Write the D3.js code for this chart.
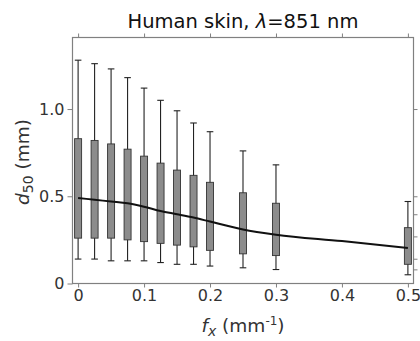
<!DOCTYPE html>
<html><head><meta charset="utf-8">
<script src="https://cdn.jsdelivr.net/npm/d3@7"></script>
<style>body{margin:0;background:#fff}svg{display:block}text{font-family:"DejaVu Sans",sans-serif}</style>
</head><body><svg id="c" width="420" height="341"></svg>
<script>
// data
const fx        = [0, 0.025, 0.05, 0.075, 0.1, 0.125, 0.15, 0.175, 0.2, 0.25, 0.3, 0.5];
const whiskHigh = [1.28, 1.26, 1.23, 1.18, 1.12, 1.05, 0.99, 0.92, 0.87, 0.76, 0.68, 0.47];
const boxHigh   = [0.83, 0.82, 0.80, 0.77, 0.73, 0.69, 0.65, 0.62, 0.58, 0.52, 0.46, 0.32];
const boxLow    = [0.26, 0.26, 0.26, 0.25, 0.24, 0.23, 0.22, 0.21, 0.19, 0.17, 0.16, 0.11];
const whiskLow  = [0.14, 0.14, 0.13, 0.13, 0.13, 0.12, 0.11, 0.11, 0.10, 0.09, 0.08, 0.05];
const lineX     = [0, 0.025, 0.05, 0.075, 0.1, 0.125, 0.15, 0.175, 0.2, 0.25, 0.3, 0.4, 0.5];
const lineY     = [0.49, 0.48, 0.47, 0.46, 0.44, 0.415, 0.397, 0.378, 0.355, 0.31, 0.28, 0.243, 0.203];
const xTicks    = [0, 0.1, 0.2, 0.3, 0.4, 0.5];
const xTickLabels = ["0", "0.1", "0.2", "0.3", "0.4", "0.5"];
const yTicks    = [0, 0.5, 1.0];
const yTickLabels = ["0", "0.5", "1.0"];
const rightTicks = [0.081, 0.142, 0.27, 0.397, 0.5, 1.0];

const svg = d3.select("#c");
const x = d3.scaleLinear().domain([-0.0085, 0.5085]).range([72.5, 413.5]);
const y = d3.scaleLinear().domain([0, 1.41]).range([283.5, 37.5]);
const axisCol = "#808080", txtCol = "#333";

// boxes
const g = svg.append("g");
fx.forEach((v, i) => {
  const cx = x(v);
  g.append("line").attr("x1", cx).attr("x2", cx).attr("y1", y(whiskHigh[i])).attr("y2", y(whiskLow[i]))
    .attr("stroke", "#222").attr("stroke-width", 1.1);
  [whiskHigh[i], whiskLow[i]].forEach(w => g.append("line").attr("x1", cx - 3.3).attr("x2", cx + 3.3)
    .attr("y1", y(w)).attr("y2", y(w)).attr("stroke", "#222").attr("stroke-width", 1.1));
  g.append("rect").attr("x", cx - 3.5).attr("width", 7).attr("y", y(boxHigh[i]))
    .attr("height", y(boxLow[i]) - y(boxHigh[i])).attr("fill", "#8c8c8c").attr("stroke", "#333").attr("stroke-width", 0.9);
});

// line
svg.append("path").datum(lineX.map((v, i) => [v, lineY[i]]))
  .attr("d", d3.line().x(d => x(d[0])).y(d => y(d[1])).curve(d3.curveMonotoneX))
  .attr("fill", "none").attr("stroke", "#111").attr("stroke-width", 2);

// axes
const styleAxis = sel => { sel.select(".domain").remove(); sel.selectAll("line").attr("stroke", axisCol);
  sel.selectAll("text").attr("fill", txtCol).style("font-size", "16px"); };
svg.append("g").attr("transform", `translate(0,${y(0)})`)
  .call(d3.axisBottom(x).tickValues(xTicks).tickFormat((d, i) => xTickLabels[i]).tickSize(4).tickPadding(2)).call(styleAxis);
svg.append("g").attr("transform", `translate(0,${y(1.41)})`)
  .call(d3.axisTop(x).tickValues(xTicks).tickFormat("").tickSize(4)).call(styleAxis);
svg.append("g").attr("transform", `translate(${x(-0.0085)},0)`)
  .call(d3.axisLeft(y).tickValues(yTicks).tickFormat((d, i) => yTickLabels[i]).tickSize(5).tickPadding(3)).call(styleAxis);
svg.append("g").attr("transform", `translate(${x(0.5085)},0)`)
  .call(d3.axisRight(y).tickValues(rightTicks).tickFormat("").tickSize(4)).call(styleAxis);
// frame
svg.append("rect").attr("x", x(-0.0085)).attr("y", y(1.41)).attr("width", x(0.5085) - x(-0.0085))
  .attr("height", y(0) - y(1.41)).attr("fill", "none").attr("stroke", axisCol).attr("stroke-width", 1.2);

// title
const t = svg.append("text").attr("x", 243).attr("y", 28).attr("text-anchor", "middle")
  .attr("fill", "#111").style("font-size", "19.5px");
t.append("tspan").text("Human skin, ");
t.append("tspan").attr("font-style", "italic").text("λ");
t.append("tspan").text("=851 nm");

// x label
const xl = svg.append("text").attr("x", 243).attr("y", 332).attr("text-anchor", "middle")
  .attr("fill", txtCol).style("font-size", "18.5px");
xl.append("tspan").attr("font-style", "italic").text("f");
xl.append("tspan").attr("font-style", "italic").attr("dy", 4).style("font-size", "14px").text("x");
xl.append("tspan").attr("dy", -4).text(" (mm");
xl.append("tspan").attr("dy", -7).style("font-size", "12px").text("-1");
xl.append("tspan").attr("dy", 7).text(")");

// y label
const yl = svg.append("text").attr("transform", "translate(29,162) rotate(-90)").attr("text-anchor", "middle")
  .attr("fill", txtCol).style("font-size", "18.5px");
yl.append("tspan").attr("font-style", "italic").text("d");
yl.append("tspan").attr("dy", 4).style("font-size", "14px").text("50");
yl.append("tspan").attr("dy", -4).text(" (mm)");
</script></body></html>
